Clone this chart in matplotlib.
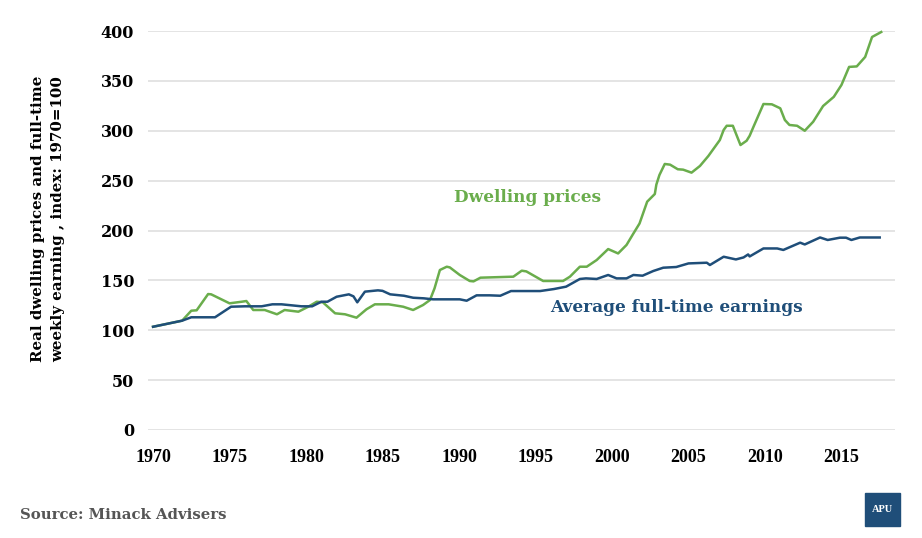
import matplotlib.pyplot as plt
from matplotlib.patches import Rectangle

# earnings index (blue)
earn_years = [1970, 1971.9, 1972.5, 1974.05, 1975.1, 1976, 1977.1, 1977.8, 1978.4, 1979.7,
              1980.4, 1981, 1981.4, 1982, 1982.8, 1983.1, 1983.35, 1983.85, 1984.7, 1985,
              1985.5, 1986.4, 1987, 1987.7, 1988.3, 1990.05, 1990.5, 1991.15, 1992, 1992.7,
              1993.4, 1995.3, 1996.2, 1997, 1997.9, 1998.3, 1999, 1999.75, 2000.3, 2000.95,
              2001.4, 2002, 2002.7, 2003.35, 2004.2, 2005, 2006.2, 2006.4, 2007.3, 2008.1,
              2008.6, 2008.9, 2009, 2009.9, 2010.8, 2011.2, 2012.3, 2012.6, 2013.6, 2014.1,
              2014.9, 2015.3, 2015.65, 2016.2, 2017.5]
earn_vals = [103.5, 109.6, 113, 113, 123.6, 124, 124, 126, 126, 124,
             124, 128.6, 128.6, 133.6, 136, 134, 128, 138.7, 140, 139.5,
             136, 134.6, 132.6, 132, 131, 131, 129.6, 135, 135, 134.6,
             139.3, 139.3, 141.3, 143.7, 151.4, 152, 151.4, 155.4, 152, 152,
             155.4, 154.7, 159.4, 162.7, 163.4, 167, 167.7, 165.4, 173.7, 171,
             173, 176, 174, 182, 182, 180.5, 187.8, 186, 193, 190.5,
             192.8, 192.8, 190.5, 193, 193]

# dwelling price index (green)
dwell_years = [1970, 1971.9, 1972.5, 1972.85, 1973.6, 1973.8, 1975, 1975.8, 1976.1, 1976.55,
               1977.3, 1978.1, 1978.6, 1979.5, 1980.15, 1980.7, 1981.1, 1981.9, 1982.55, 1983.3,
               1983.95, 1984.5, 1985.4, 1986.35, 1987, 1987.65, 1988.1, 1988.4, 1988.75, 1989.2,
               1989.4, 1990.05, 1990.7, 1990.95, 1991.4, 1993.55, 1994.1, 1994.4, 1995.5, 1996.8,
               1997.25, 1997.9, 1998.35, 1999, 1999.75, 2000.4, 2000.95, 2001.4, 2001.8, 2002.3,
               2002.8, 2002.9, 2003.1, 2003.45, 2003.8, 2004.3, 2004.65, 2005.2, 2005.75, 2006.3,
               2007.05, 2007.3, 2007.5, 2007.9, 2008.4, 2008.8, 2009.0, 2009.25, 2009.9, 2010.45,
               2011, 2011.3, 2011.6, 2012.1, 2012.6, 2013.15, 2013.8, 2014.5, 2015, 2015.5,
               2016, 2016.55, 2017, 2017.6]
dwell_vals = [103.5, 109.6, 119.6, 120, 136.3, 136, 127, 128.6, 129.3, 120.3,
              120.3, 116, 120.3, 118.6, 123.6, 128.6, 128, 117, 116, 112.6,
              121, 126, 126, 123.6, 120.3, 125.3, 130.3, 142, 160.4, 163.7,
              163, 155.4, 149.4, 149, 152.7, 153.7, 159.7, 159, 149.4, 149.4,
              153.7, 163.7, 163.7, 170.4, 181.4, 177, 185.5, 197, 207, 228.9,
              236.6, 246, 255.6, 266.7, 266, 261.4, 261, 258, 264.7, 274.7,
              290.7, 300.8, 305, 305, 285.7, 290, 295, 304, 326.8, 326.5,
              322.5, 310.8, 305.8, 305, 300, 309, 324.8, 334, 345.9, 364,
              364.5, 374, 394, 399]

y_ticks = [0, 50, 100, 150, 200, 250, 300, 350, 400]
x_ticks = [1970, 1975, 1980, 1985, 1990, 1995, 2000, 2005, 2010, 2015]

green = '#6aad4c'
blue = '#1f4e79'
serif = ['DejaVu Serif']

fig = plt.figure(figsize=(9.22, 5.38), dpi=100)
ax = fig.add_axes([148 / 922, 1 - 430 / 538, 747 / 922, 399 / 538])

ax.plot(dwell_years, dwell_vals, color=green, lw=1.8, clip_on=False, zorder=3)
ax.plot(earn_years, earn_vals, color=blue, lw=1.8, clip_on=False, zorder=4)

ax.set_xlim(1969.67, 2018.5)
ax.set_ylim(0, 400)
ax.set_yticks(y_ticks)
ax.set_xticks(x_ticks)
ax.set_yticklabels([str(v) for v in y_ticks], fontfamily=serif, fontweight='bold', fontsize=11.5)
ax.set_xticklabels([str(v) for v in x_ticks], fontfamily=['Liberation Serif'], fontweight='bold', fontsize=13)
ax.tick_params(length=0, axis='y', pad=10)
ax.tick_params(length=0, axis='x', pad=14)
ax.grid(axis='y', color='#e2e2e2', lw=1.3)
ax.set_axisbelow(True)
for s in ax.spines.values():
    s.set_visible(False)

ax.set_ylabel('Real dwelling prices and full-time\nweekly earning , index: 1970=100',
              fontfamily=serif, fontweight='bold', fontsize=10.8, linespacing=1.55)
ax.yaxis.set_label_coords(-0.111, 0.529)

ax.text(1994.45, 233, 'Dwelling prices', color=green, fontfamily=serif,
        fontweight='bold', fontsize=12.2, ha='center', va='center')
ax.text(2004.2, 123, 'Average full-time earnings', color=blue, fontfamily=serif,
        fontweight='bold', fontsize=12.2, ha='center', va='center')

fig.text(20 / 922, 1 - 515 / 538, 'Source: Minack Advisers', color='#555555',
         fontfamily=serif, fontweight='bold', fontsize=10.7, ha='left', va='center')

fig.patches.append(Rectangle((865 / 922, 1 - 526 / 538), 35 / 922, 33 / 538,
                             transform=fig.transFigure, color='#1f4e79'))
fig.text(882.5 / 922, 1 - 509.5 / 538, 'APU', color='white', fontfamily=['Liberation Serif'],
         fontweight='bold', fontsize=7.5, ha='center', va='center')

fig.savefig('out.png', dpi=100)
